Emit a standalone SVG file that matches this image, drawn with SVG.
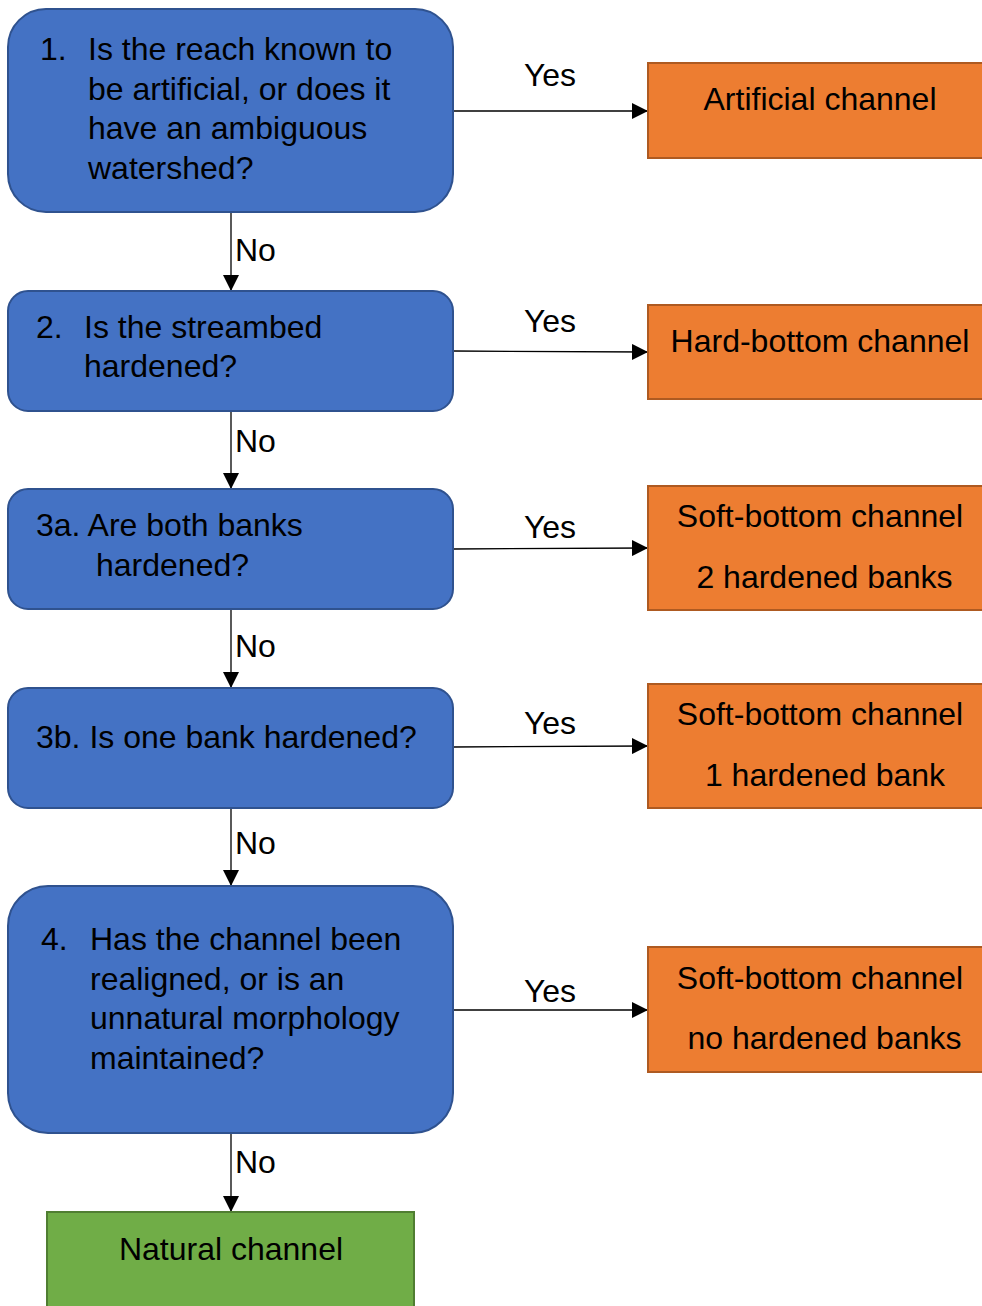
<svg xmlns="http://www.w3.org/2000/svg" width="982" height="1306" viewBox="0 0 982 1306">
<style>
text{font-family:"Liberation Sans",Arial,sans-serif;font-size:32px;fill:#000}
.q{fill:#4472C4;stroke:#2F528F;stroke-width:2}
.o{fill:#ED7D31;stroke:#AE5A21;stroke-width:2}
.g{fill:#70AD47;stroke:#507E32;stroke-width:2}
.c{stroke:#000;stroke-width:1.3;fill:none;marker-end:url(#ah)}
.m{text-anchor:middle}
.lab{font-size:32px}
</style>
<defs>
<marker id="ah" markerUnits="userSpaceOnUse" markerWidth="16" markerHeight="16" viewBox="0 0 16 16" refX="15" refY="8" orient="auto">
<path d="M0,0 L16,8 L0,16 Z" fill="#000"/>
</marker>
</defs>
<g id="connectors">
<path class="c" d="M231,212 V290"/>
<path class="c" d="M231,411 V488"/>
<path class="c" d="M231,609 V687"/>
<path class="c" d="M231,808 V885"/>
<path class="c" d="M231,1133 V1211"/>
<path class="c" d="M453,111 H647"/>
<path class="c" d="M453,351 L647,352"/>
<path class="c" d="M453,549 L647,548"/>
<path class="c" d="M453,747 L647,746"/>
<path class="c" d="M453,1010 H647"/>
<text class="lab" x="235" y="261">No</text>
<text class="lab" x="235" y="452">No</text>
<text class="lab" x="235" y="657">No</text>
<text class="lab" x="235" y="854">No</text>
<text class="lab" x="235" y="1173">No</text>
<text class="lab m" x="550" y="86">Yes</text>
<text class="lab m" x="550" y="332">Yes</text>
<text class="lab m" x="550" y="538">Yes</text>
<text class="lab m" x="550" y="734">Yes</text>
<text class="lab m" x="550" y="1002">Yes</text>
</g>
<g id="q1">
<rect class="q" x="8" y="9" width="445" height="203" rx="38"/>
<text x="40" y="60">1.</text>
<text x="88" y="60">Is the reach known to</text>
<text x="88" y="99.5">be artificial, or does it</text>
<text x="88" y="139">have an ambiguous</text>
<text x="88" y="178.5">watershed?</text>
</g>
<g id="q2">
<rect class="q" x="8" y="291" width="445" height="120" rx="20"/>
<text x="36" y="338">2.</text>
<text x="84" y="338">Is the streambed</text>
<text x="84" y="377">hardened?</text>
</g>
<g id="q3a">
<rect class="q" x="8" y="489" width="445" height="120" rx="20"/>
<text x="36" y="536">3a. Are both banks</text>
<text x="96" y="576">hardened?</text>
</g>
<g id="q3b">
<rect class="q" x="8" y="688" width="445" height="120" rx="20"/>
<text x="36" y="748">3b. Is one bank hardened?</text>
</g>
<g id="q4">
<rect class="q" x="8" y="886" width="445" height="247" rx="40"/>
<text x="41" y="950">4.</text>
<text x="90" y="950">Has the channel been</text>
<text x="90" y="990">realigned, or is an</text>
<text x="90" y="1029">unnatural morphology</text>
<text x="90" y="1069">maintained?</text>
</g>
<g id="r1">
<rect class="o" x="648" y="63" width="340" height="95"/>
<text class="m" x="820" y="110">Artificial channel</text>
</g>
<g id="r2">
<rect class="o" x="648" y="305" width="340" height="94"/>
<text class="m" x="820" y="352">Hard-bottom channel</text>
</g>
<g id="r3">
<rect class="o" x="648" y="486" width="340" height="124"/>
<text class="m" x="820" y="527">Soft-bottom channel</text>
<text class="m" x="824.5" y="588">2 hardened banks</text>
</g>
<g id="r4">
<rect class="o" x="648" y="684" width="340" height="124"/>
<text class="m" x="820" y="725">Soft-bottom channel</text>
<text class="m" x="825" y="786">1 hardened bank</text>
</g>
<g id="r5">
<rect class="o" x="648" y="947" width="340" height="125"/>
<text class="m" x="820" y="989">Soft-bottom channel</text>
<text class="m" x="824.5" y="1049">no hardened banks</text>
</g>
<g id="natural">
<rect class="g" x="47" y="1212" width="367" height="110"/>
<text class="m" x="231" y="1260">Natural channel</text>
</g>
</svg>
